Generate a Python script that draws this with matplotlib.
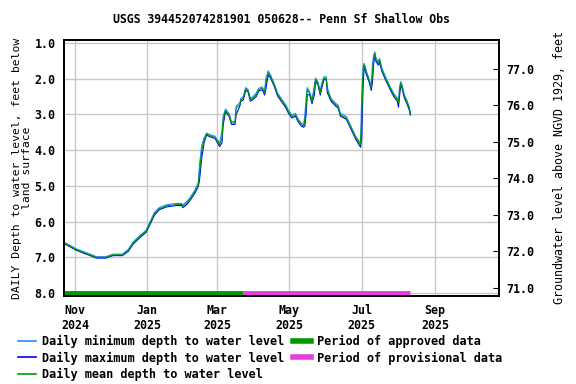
import pandas as pd
import matplotlib
matplotlib.use("Agg")
import matplotlib.pyplot as plt
from matplotlib.lines import Line2D

# daily values (depth below land surface, feet)
dates = ["2024-10-23", "2024-10-27", "2024-11-02", "2024-11-08", "2024-11-13",
         "2024-11-19", "2024-11-27", "2024-12-03", "2024-12-11", "2024-12-16",
         "2024-12-20", "2024-12-26", "2024-12-31", "2025-01-03", "2025-01-07",
         "2025-01-11", "2025-01-17", "2025-01-21", "2025-01-26", "2025-01-30",
         "2025-01-31", "2025-02-03", "2025-02-06", "2025-02-10", "2025-02-13",
         "2025-02-14", "2025-02-16", "2025-02-18", "2025-02-20", "2025-02-23",
         "2025-02-27", "2025-03-03", "2025-03-05", "2025-03-06", "2025-03-08",
         "2025-03-11", "2025-03-13", "2025-03-16", "2025-03-17", "2025-03-20",
         "2025-03-21", "2025-03-23", "2025-03-25", "2025-03-27", "2025-03-29",
         "2025-03-31", "2025-04-03", "2025-04-05", "2025-04-08", "2025-04-10",
         "2025-04-11", "2025-04-13", "2025-04-15", "2025-04-18", "2025-04-21",
         "2025-04-25", "2025-04-28", "2025-04-30", "2025-05-03", "2025-05-06",
         "2025-05-08", "2025-05-11", "2025-05-13", "2025-05-14", "2025-05-15",
         "2025-05-16", "2025-05-18", "2025-05-20", "2025-05-22", "2025-05-23",
         "2025-05-25", "2025-05-27", "2025-05-28", "2025-05-30", "2025-06-01",
         "2025-06-02", "2025-06-05", "2025-06-09", "2025-06-11", "2025-06-13",
         "2025-06-18", "2025-06-22", "2025-06-26", "2025-06-30", "2025-07-01",
         "2025-07-02", "2025-07-03", "2025-07-05", "2025-07-07", "2025-07-09",
         "2025-07-10", "2025-07-11", "2025-07-12", "2025-07-13", "2025-07-15",
         "2025-07-16", "2025-07-18", "2025-07-21", "2025-07-25", "2025-07-28",
         "2025-07-31", "2025-08-01", "2025-08-02", "2025-08-03", "2025-08-04",
         "2025-08-06", "2025-08-08", "2025-08-10", "2025-08-11"]

mean_depth = [6.60, 6.67, 6.78, 6.86, 6.92, 7.00, 7.00, 6.93, 6.93, 6.80,
              6.60, 6.41, 6.27, 6.06, 5.78, 5.64, 5.56, 5.54, 5.52, 5.52,
              5.57, 5.49, 5.37, 5.17, 4.98, 4.64, 3.99, 3.71, 3.55, 3.60,
              3.64, 3.85, 3.66, 3.15, 2.89, 3.01, 3.24, 3.24, 2.82, 2.73,
              2.59, 2.55, 2.29, 2.33, 2.59, 2.55, 2.45, 2.31, 2.27, 2.41,
              2.13, 1.83, 1.94, 2.17, 2.45, 2.64, 2.78, 2.92, 3.06, 3.01,
              3.15, 3.29, 3.32, 3.15, 2.78, 2.31, 2.41, 2.64, 2.31, 2.03,
              2.13, 2.41, 2.22, 1.99, 1.99, 2.31, 2.59, 2.73, 2.78, 3.01,
              3.10, 3.38, 3.66, 3.85, 3.00, 1.94, 1.61, 1.85, 2.03, 2.27,
              1.85, 1.47, 1.29, 1.47, 1.57, 1.47, 1.75, 1.99, 2.27, 2.45,
              2.59, 2.68, 2.31, 2.13, 2.22, 2.50, 2.64, 2.82, 2.98]

min_depth = [6.58, 6.65, 6.76, 6.84, 6.90, 6.98, 6.98, 6.91, 6.91, 6.77,
             6.57, 6.38, 6.24, 6.02, 5.74, 5.61, 5.53, 5.51, 5.49, 5.49,
             5.53, 5.45, 5.33, 5.13, 4.90, 4.40, 3.85, 3.65, 3.52, 3.57,
             3.61, 3.80, 3.45, 3.05, 2.85, 2.98, 3.20, 3.20, 2.76, 2.68,
             2.55, 2.50, 2.25, 2.30, 2.55, 2.51, 2.40, 2.27, 2.23, 2.36,
             2.00, 1.78, 1.90, 2.13, 2.41, 2.60, 2.74, 2.88, 3.02, 2.97,
             3.11, 3.25, 3.28, 3.00, 2.55, 2.25, 2.37, 2.58, 2.20, 1.98,
             2.09, 2.36, 2.15, 1.95, 1.95, 2.26, 2.55, 2.69, 2.74, 2.97,
             3.06, 3.34, 3.62, 3.80, 2.40, 1.70, 1.57, 1.80, 1.99, 2.20,
             1.60, 1.35, 1.25, 1.42, 1.53, 1.43, 1.70, 1.95, 2.23, 2.41,
             2.55, 2.60, 2.20, 2.08, 2.18, 2.46, 2.60, 2.78, 2.95]

max_depth = [6.62, 6.69, 6.80, 6.88, 6.94, 7.02, 7.02, 6.95, 6.95, 6.83,
             6.63, 6.44, 6.30, 6.10, 5.82, 5.67, 5.59, 5.57, 5.55, 5.55,
             5.61, 5.53, 5.41, 5.21, 5.02, 4.85, 4.20, 3.78, 3.58, 3.63,
             3.67, 3.90, 3.80, 3.30, 2.93, 3.05, 3.28, 3.28, 3.00, 2.78,
             2.63, 2.60, 2.33, 2.37, 2.63, 2.59, 2.50, 2.35, 2.31, 2.46,
             2.30, 1.90, 1.98, 2.21, 2.49, 2.68, 2.82, 2.96, 3.10, 3.05,
             3.19, 3.33, 3.36, 3.32, 3.00, 2.45, 2.45, 2.70, 2.45, 2.08,
             2.17, 2.46, 2.30, 2.03, 2.03, 2.40, 2.63, 2.77, 2.82, 3.05,
             3.14, 3.42, 3.70, 3.92, 3.60, 2.30, 1.66, 1.90, 2.07, 2.33,
             2.10, 1.60, 1.35, 1.52, 1.62, 1.55, 1.80, 2.03, 2.31, 2.50,
             2.63, 2.80, 2.45, 2.18, 2.27, 2.55, 2.69, 2.87, 3.02]

approved = ("2024-10-22", "2025-03-23")
provisional = ("2025-03-23", "2025-08-11")

x_ticks = ["2024-11-01", "2025-01-01", "2025-03-01", "2025-05-01", "2025-07-01", "2025-09-01"]
x_ticklabels = ["Nov\n2024", "Jan\n2025", "Mar\n2025", "May\n2025", "Jul\n2025", "Sep\n2025"]
y_ticks = [1.0, 2.0, 3.0, 4.0, 5.0, 6.0, 7.0, 8.0]
y2_ticks = [71.0, 72.0, 73.0, 74.0, 75.0, 76.0, 77.0]

plt.rcParams['font.family'] = 'DejaVu Sans Mono'
plt.rcParams['font.weight'] = 'bold'
plt.rcParams['font.size'] = 8.4

d = pd.to_datetime(dates)

fig = plt.figure(figsize=(5.76, 3.84), dpi=100)
ax = fig.add_axes([64 / 576, 1 - 296 / 384, 435 / 576, 256 / 384])

ax.plot(d, min_depth, color='#1e90ff', lw=0.8, zorder=3)
ax.plot(d, max_depth, color='#0000ff', lw=0.8, zorder=4)
ax.plot(d, mean_depth, color='#009a00', lw=0.8, zorder=5)

ax.plot(pd.to_datetime(list(approved)), [8.0, 8.0], color='#009a00', lw=3.5, solid_capstyle='butt', zorder=6)
ax.plot(pd.to_datetime(list(provisional)), [8.0, 8.0], color='#e83ee0', lw=3.5, solid_capstyle='butt', zorder=6)

ax.set_xlim(pd.Timestamp("2024-10-22 16:00"), pd.Timestamp("2025-10-24 20:00"))
ax.set_ylim(8.08, 0.92)
ax.set_yticks(y_ticks)
ax.set_yticklabels(["%.1f" % v for v in y_ticks])
ax.set_xticks(pd.to_datetime(x_ticks))
ax.set_xticklabels(x_ticklabels)
ax.grid(True, color='#c8c8c8', lw=1.0)
ax.set_axisbelow(True)
ax.tick_params(axis='both', length=0, pad=6)
for s in ax.spines.values():
    s.set_linewidth(1.3)

ax.set_ylabel("DAILY Depth to water level, feet below\nland surface", labelpad=2, linespacing=0.95, fontsize=8.2)
ax.set_title("USGS 394452074281901 050628-- Penn Sf Shallow Obs", pad=12, fontsize=8.3, fontweight='bold')

ax2 = ax.twinx()
ax2.set_ylim(70.78, 77.79)
ax2.set_yticks(y2_ticks)
ax2.set_yticklabels(["%.1f" % v for v in y2_ticks])
ax2.tick_params(axis='y', direction='in', length=4, pad=5)
ax2.set_ylabel("Groundwater level above NGVD 1929, feet", labelpad=14)
for s in ax2.spines.values():
    s.set_linewidth(1.3)

handles = [
    Line2D([], [], color='#1e90ff', lw=1.2),
    Line2D([], [], color='#0000ff', lw=1.2),
    Line2D([], [], color='#009a00', lw=1.2),
    Line2D([], [], color='#009a00', lw=4),
    Line2D([], [], color='#e83ee0', lw=4),
]
labels = ["Daily minimum depth to water level",
          "Daily maximum depth to water level",
          "Daily mean depth to water level",
          "Period of approved data",
          "Period of provisional data"]
fig.legend(handles, labels, ncol=2, loc='upper left', bbox_to_anchor=(0.032, 0.128),
           frameon=False, handlelength=1.5, handletextpad=0.5, columnspacing=0.7,
           labelspacing=0.3, borderpad=0.0, borderaxespad=0.0, fontsize=8.6)

fig.savefig("out.png", dpi=100)
